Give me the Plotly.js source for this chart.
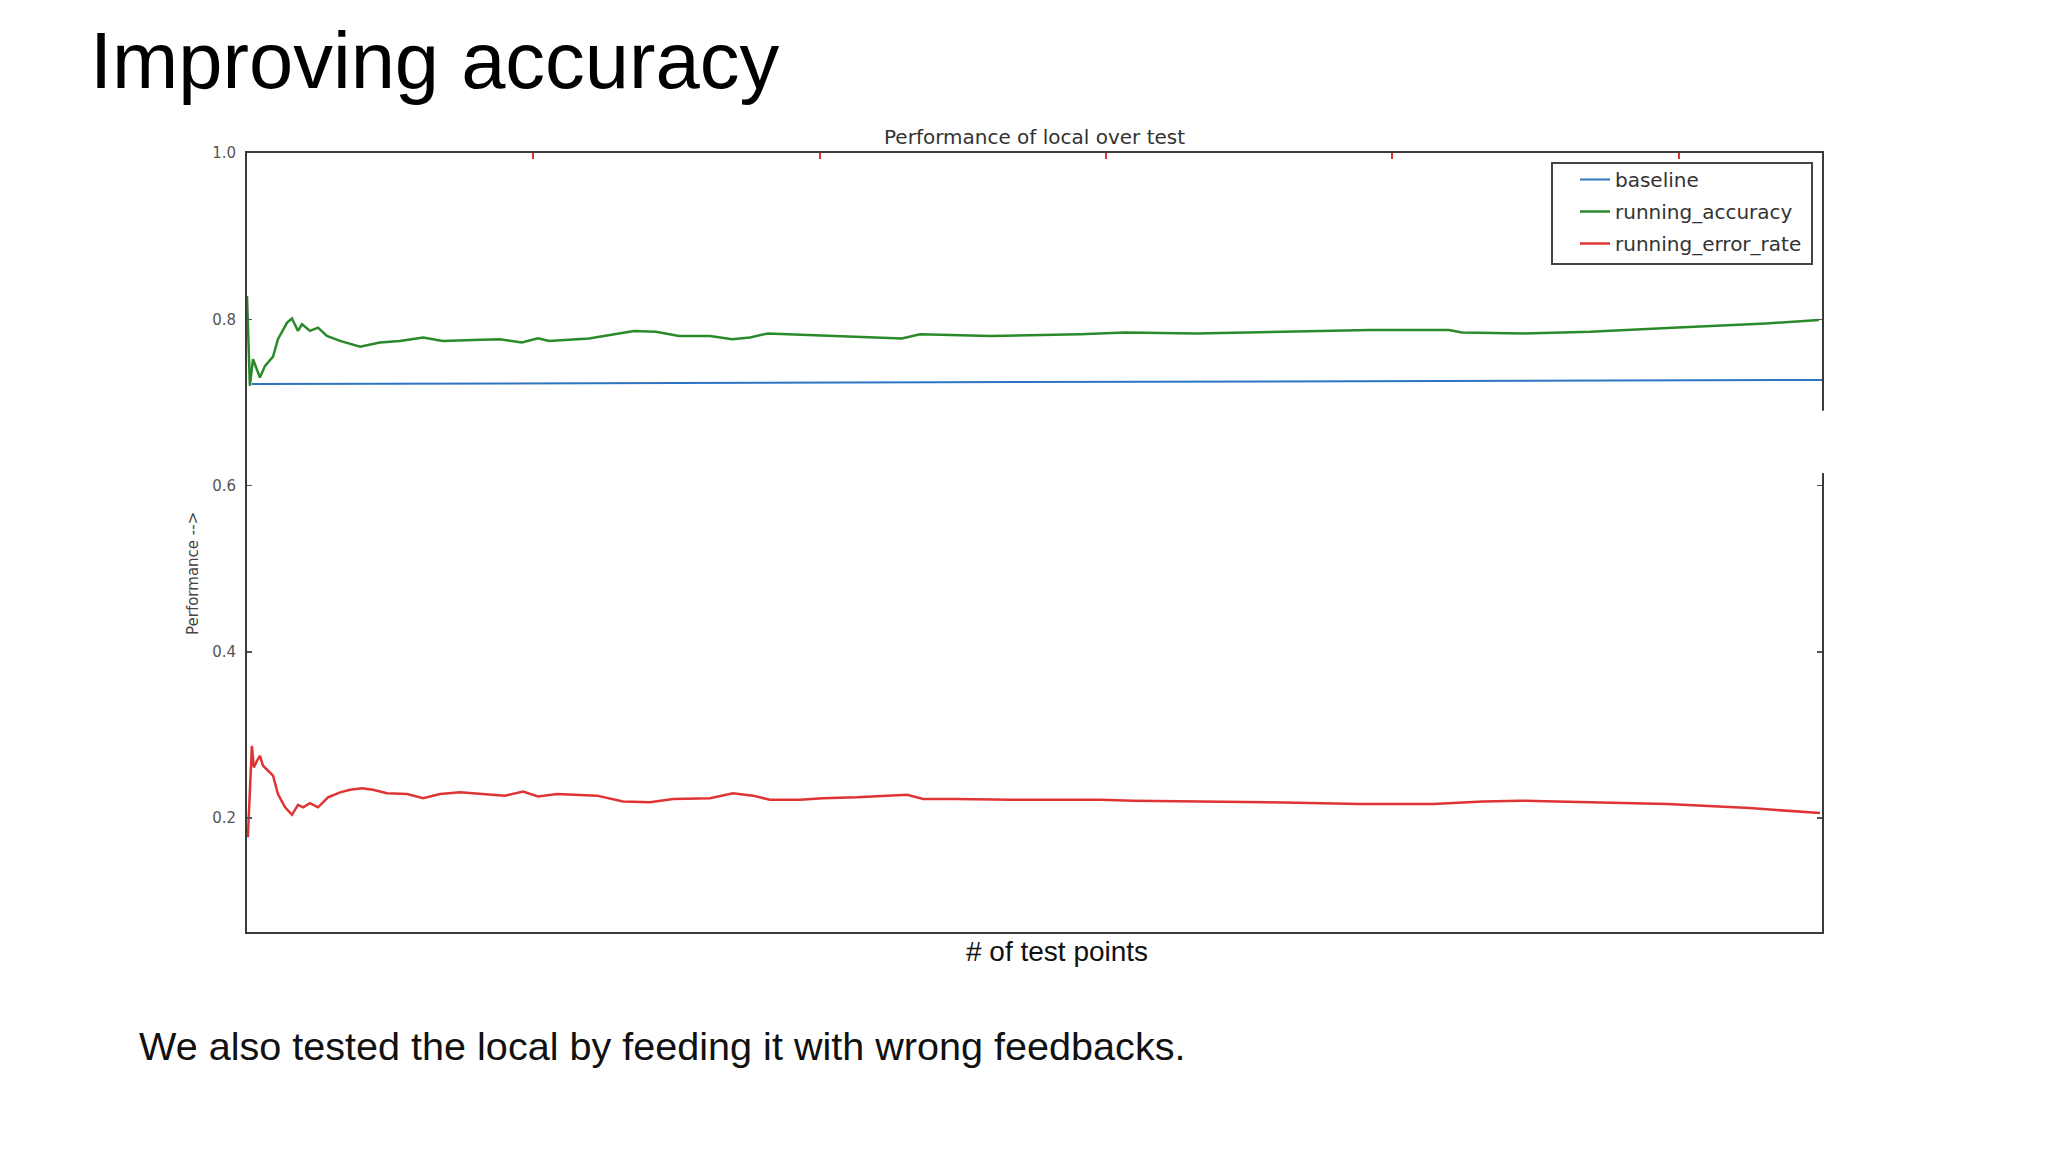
<!DOCTYPE html>
<html>
<head>
<meta charset="utf-8">
<script src="https://cdn.plot.ly/plotly-3.0.1.min.js"></script>
<style>
  html, body { margin: 0; padding: 0; background: #ffffff; }
  #chart { width: 2048px; height: 1152px; }
</style>
</head>
<body>
<div id="chart"></div>
<script>
// ---- data (x = # of test points, y = performance) ----
const seriesNames = ["baseline", "running_accuracy", "running_error_rate"];

const baselineX = [17, 5500];
const baselineY = [0.722, 0.727];

const accuracyX = [0, 3, 10, 21, 35, 45, 63, 91, 108, 140, 157, 178, 192, 220, 248, 279, 325, 395, 464, 534,
  615, 684, 789, 883, 960, 1016, 1055, 1194, 1351, 1428, 1509, 1617, 1694, 1756, 1819, 1973, 2130, 2287,
  2350, 2598, 2909, 3066, 3314, 3461, 3922, 4197, 4243, 4459, 4690, 4997, 5304, 5489];
const accuracyY = [0.828, 0.80, 0.72, 0.752, 0.74, 0.73, 0.744, 0.755, 0.776, 0.796, 0.801, 0.786, 0.794, 0.786,
  0.79, 0.78, 0.774, 0.767, 0.772, 0.774, 0.778, 0.774, 0.775, 0.776, 0.772, 0.777, 0.774, 0.777, 0.786,
  0.785, 0.78, 0.78, 0.776, 0.778, 0.783, 0.781, 0.779, 0.777, 0.782, 0.78, 0.782, 0.784, 0.783, 0.784,
  0.787, 0.787, 0.784, 0.783, 0.785, 0.79, 0.795, 0.799];

const errorX = [0, 3, 17, 24, 35, 45, 56, 73, 91, 108, 133, 157, 178, 196, 220, 248, 283, 325, 360, 402, 440,
  489, 559, 615, 674, 744, 814, 901, 964, 1016, 1083, 1222, 1313, 1407, 1488, 1617, 1697, 1767, 1826, 1931,
  2011, 2130, 2305, 2361, 2479, 2664, 2979, 3094, 3562, 3887, 4142, 4316, 4445, 4610, 4959, 5248, 5493];
const errorY = [0.189, 0.177, 0.287, 0.261, 0.269, 0.275, 0.263, 0.257, 0.251, 0.229, 0.213, 0.204, 0.216, 0.213,
  0.218, 0.213, 0.225, 0.231, 0.234, 0.236, 0.234, 0.23, 0.229, 0.224, 0.229, 0.231, 0.229, 0.227, 0.232,
  0.226, 0.229, 0.227, 0.22, 0.219, 0.223, 0.224, 0.23, 0.227, 0.222, 0.222, 0.224, 0.225, 0.228, 0.223,
  0.223, 0.222, 0.222, 0.221, 0.219, 0.217, 0.217, 0.22, 0.221, 0.22, 0.217, 0.212, 0.206];

const xTopTicks = [0, 1000, 2000, 3000, 4000, 5000];
const yTicks = [0.2, 0.4, 0.6, 0.8, 1.0];
const yTickText = ["0.2", "0.4", "0.6", "0.8", "1.0"];

const slideTitle = "Improving accuracy";
const chartTitle = "Performance of local over test";
const xTitle = "# of test points";
const yTitle = "Performance -->";
const caption = "We also tested the local by feeding it with wrong feedbacks.";

// ---- traces ----
const traces = [
  { x: baselineX, y: baselineY, name: seriesNames[0], legendgroup: "g0", mode: "lines", type: "scatter",
    line: { color: "#2f74c0", width: 2 } },
  { x: accuracyX, y: accuracyY, name: seriesNames[1], legendgroup: "g1", mode: "lines", type: "scatter",
    line: { color: "#2a8a2a", width: 2.5 } },
  { x: errorX, y: errorY, name: seriesNames[2], legendgroup: "g2", mode: "lines", type: "scatter",
    line: { color: "#e03434", width: 2.5 } }
];

const chartFont = "DejaVu Sans, Verdana, sans-serif";
const slideFont = "Liberation Sans, Arial, sans-serif";

// plot area: x 247..1822, y 153..932 (pixels)
const L = 247, R = 1822, T = 153, B = 932;
const px = v => (v - L) / (R - L);
const py = v => (B - v) / (B - T);

const layout = {
  width: 2048, height: 1152,
  paper_bgcolor: "#ffffff", plot_bgcolor: "#ffffff",
  margin: { l: L, r: 2048 - R, t: T, b: 1152 - B, pad: 0 },
  showlegend: true,
  title: {
    text: slideTitle, xref: "container", yref: "container",
    x: 90 / 2048, xanchor: "left", y: 1 - 60 / 1152, yanchor: "middle",
    font: { family: slideFont, size: 79.5, color: "#000000" }
  },
  xaxis: {
    range: [0, 5500], side: "top",
    showline: true, linecolor: "#3a3a3a", linewidth: 2, mirror: true,
    ticks: "inside", tickvals: xTopTicks, ticklen: 6, tickwidth: 2, tickcolor: "#e03030",
    showticklabels: false, showgrid: false, zeroline: false
  },
  yaxis: {
    range: [0.063, 1.0],
    showline: true, linecolor: "#3a3a3a", linewidth: 2, mirror: "ticks",
    ticks: "inside", tickvals: yTicks, ticktext: yTickText, ticklen: 5, tickwidth: 1.5, tickcolor: "#555555",
    ticklabelstandoff: 6,
    tickfont: { family: chartFont, size: 15, color: "#555555" },
    showgrid: false, zeroline: false
  },
  legend: {
    x: px(1575), xanchor: "left", y: py(160), yanchor: "top",
    bgcolor: "rgba(0,0,0,0)", borderwidth: 0, tracegroupgap: 3,
    font: { family: chartFont, size: 20, color: "#333333" }
  },
  annotations: [
    { text: chartTitle, xref: "paper", yref: "paper", x: 0.5, y: py(137),
      xanchor: "center", yanchor: "middle", showarrow: false,
      font: { family: chartFont, size: 20, color: "#333333" } },
    { text: yTitle, xref: "paper", yref: "paper", x: px(193), y: py(574),
      xanchor: "center", yanchor: "middle", textangle: -90, showarrow: false,
      font: { family: chartFont, size: 15, color: "#444444" } },
    { text: xTitle, xref: "paper", yref: "paper", x: px(1057), y: py(951),
      xanchor: "center", yanchor: "middle", showarrow: false,
      font: { family: slideFont, size: 28, color: "#111111" } },
    { text: caption, xref: "paper", yref: "paper", x: px(137), y: py(1046),
      xanchor: "left", yanchor: "middle", showarrow: false,
      font: { family: slideFont, size: 39.6, color: "#111111" } }
  ],
  shapes: [
    // legend frame
    { type: "rect", xref: "paper", yref: "paper", x0: px(1552), x1: px(1812), y0: py(264), y1: py(163),
      fillcolor: "#ffffff", line: { color: "#444444", width: 2 }, layer: "above" },
    // white gap on the right spine, as in the reference
    { type: "line", xref: "paper", yref: "y", x0: 1, x1: 1, y0: 0.615, y1: 0.69,
      line: { color: "#ffffff", width: 5 }, layer: "above" }
  ]
};

Plotly.newPlot("chart", traces, layout, { displayModeBar: false, staticPlot: true });
</script>
</body>
</html>
